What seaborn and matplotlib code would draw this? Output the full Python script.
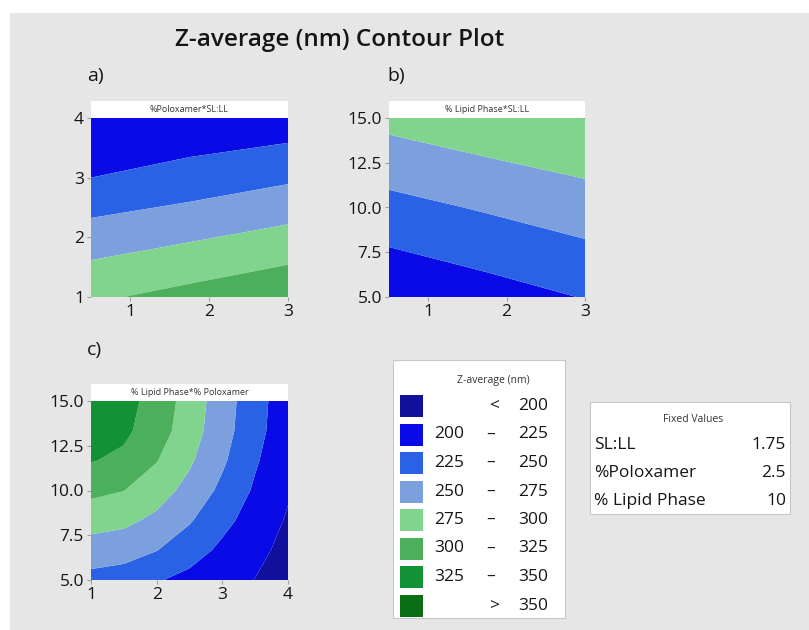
import numpy as np
import matplotlib
matplotlib.use("Agg")
import matplotlib.pyplot as plt
from matplotlib.patches import Rectangle
import seaborn as sns

sns.set_theme(style="white")
plt.rcParams['font.family'] = ['Open Sans', 'DejaVu Sans']

# ---------------- data ----------------
levels = [0, 200, 225, 250, 275, 300, 325, 350, 1000]
band_labels = ["< 200", "200 – 225", "225 – 250", "250 – 275",
               "275 – 300", "300 – 325", "325 – 350", "> 350"]
band_colors = ["#10109c", "#0a0ae6", "#2a62e6", "#7ca0de",
               "#80d48e", "#4caf5c", "#129234", "#0a6e14"]

# a) %Poloxamer (y) vs SL:LL (x)
a_x = [0.5, 1.75, 3.0]
a_y = [1, 2, 3, 4]
a_z = [[296, 308, 320],
       [262, 272, 283],
       [225, 235, 246],
       [203, 206, 210]]

# b) % Lipid Phase (y) vs SL:LL (x)
b_x = [0.5, 1.75, 3.0]
b_y = [5, 10, 15]
b_z = [[203.5, 214.5, 226.0],
       [242.0, 252.5, 263.0],
       [282.5, 292.5, 300.5]]

# c) % Lipid Phase (y) vs % Poloxamer (x)
c_x = [1.0, 1.5, 2.0, 2.5, 3.0, 3.5, 4.0]
c_y = [5.0, 6.67, 8.33, 10.0, 11.67, 13.33, 15.0]
c_z = [[242.1, 238.0, 227.0, 218.0, 209.6, 199.5, 188.0],
       [263.7, 260.3, 250.7, 235.8, 220.0, 206.4, 193.0],
       [284.9, 280.8, 269.3, 252.3, 231.9, 214.6, 197.5],
       [306.1, 300.4, 286.3, 266.9, 244.3, 221.6, 202.5],
       [326.3, 319.8, 301.0, 278.6, 253.8, 227.7, 207.0],
       [335.6, 329.9, 312.0, 286.2, 259.9, 232.7, 210.0],
       [345.0, 333.1, 316.1, 288.9, 262.0, 234.4, 211.0]]

fixed_names = ["SL:LL", "%Poloxamer", "% Lipid Phase"]
fixed_values = ["1.75", "2.5", "10"]

# ---------------- figure ----------------
W, H = 809, 630
fig = plt.figure(figsize=(W / 100, H / 100), dpi=100, facecolor="white")
fig.patches.append(Rectangle((10 / W, 0), 1 - 10 / W, 1 - 13 / H,
                             transform=fig.transFigure, facecolor="#e6e6e6",
                             edgecolor="none", zorder=-10))

def px_axes(x0, y0, x1, y1):
    return fig.add_axes([x0 / W, 1 - y1 / H, (x1 - x0) / W, (y1 - y0) / H])

TXT = "#151515"

def panel(ax, xs, ys, zs, header, xlim, ylim, xticks, yticks, yfmt):
    X, Y = np.meshgrid(xs, ys)
    ax.contourf(X, Y, np.array(zs), levels=levels, colors=band_colors,
                antialiased=True)
    ax.set_xlim(*xlim)
    ax.set_ylim(*ylim)
    ax.set_xticks(xticks)
    ax.set_xticklabels([str(t) for t in xticks])
    ax.set_yticks(yticks)
    ax.set_yticklabels([yfmt.format(t) for t in yticks])
    for s in ax.spines.values():
        s.set_visible(False)
    ax.tick_params(axis="both", length=3, width=0.8, color="#a0a0a0",
                   labelsize=12.5, labelcolor=TXT, pad=2, direction="out",
                   left=True, bottom=True)
    hh = 17 / (ax.get_position().height * H)
    ax.add_patch(Rectangle((0, 1), 1, hh, transform=ax.transAxes,
                           facecolor="white", edgecolor="none", clip_on=False))
    ax.text(0.5, 1 + hh / 2, header, transform=ax.transAxes, ha="center",
            va="center", fontsize=6.5, color="#333333")

ax_a = px_axes(91, 118, 288, 297)
panel(ax_a, a_x, a_y, a_z, "%Poloxamer*SL:LL", (0.5, 3.0), (1, 4),
      [1, 2, 3], [1, 2, 3, 4], "{:d}")

ax_b = px_axes(389, 118, 585, 297)
panel(ax_b, b_x, b_y, b_z, "% Lipid Phase*SL:LL", (0.5, 3.0), (5, 15),
      [1, 2, 3], [5.0, 7.5, 10.0, 12.5, 15.0], "{:.1f}")

ax_c = px_axes(91, 401, 288, 580)
panel(ax_c, c_x, c_y, c_z, "% Lipid Phase*% Poloxamer", (1, 4), (5, 15),
      [1, 2, 3, 4], [5.0, 7.5, 10.0, 12.5, 15.0], "{:.1f}")

def ftext(x, y, s, **kw):
    fig.text(x / W, 1 - y / H, s, **kw)

ftext(340, 40, "Z-average (nm) Contour Plot", ha="center", va="center",
      fontsize=17.5, color=TXT, fontweight="semibold")
ftext(87, 76, "a)", ha="left", va="center", fontsize=14, color=TXT)
ftext(387, 76, "b)", ha="left", va="center", fontsize=14, color=TXT)
ftext(87, 350, "c)", ha="left", va="center", fontsize=14, color=TXT)

# ---------------- legend box ----------------
fig.patches.append(Rectangle((393 / W, 1 - 618 / H), 172 / W, 258 / H,
                             transform=fig.transFigure, facecolor="white",
                             edgecolor="#c8c8c8", linewidth=0.8))
ftext(493, 380, "Z-average (nm)", ha="center", va="center", fontsize=7.5,
      color="#333333")
for i, (lab, col) in enumerate(zip(band_labels, band_colors)):
    yc = 406 + i * 28.5
    fig.patches.append(Rectangle((400 / W, 1 - (yc + 11) / H), 23 / W, 22 / H,
                                 transform=fig.transFigure, facecolor=col,
                                 edgecolor="none"))
    if " – " in lab:
        lo, hi = lab.split(" – ")
        ftext(434, yc, lo, ha="left", va="center", fontsize=12.5, color=TXT)
        ftext(491, yc, "–", ha="center", va="center", fontsize=12.5, color=TXT)
        ftext(548, yc, hi, ha="right", va="center", fontsize=12.5, color=TXT)
    else:
        sym, val = lab.split(" ")
        ftext(494, yc, sym, ha="center", va="center", fontsize=12.5, color=TXT)
        ftext(548, yc, val, ha="right", va="center", fontsize=12.5, color=TXT)

# ---------------- fixed values box ----------------
fig.patches.append(Rectangle((590 / W, 1 - 514 / H), 200 / W, 112 / H,
                             transform=fig.transFigure, facecolor="white",
                             edgecolor="#c8c8c8", linewidth=0.8))
ftext(693, 419, "Fixed Values", ha="center", va="center", fontsize=7.5,
      color="#333333")
for i, (n, v) in enumerate(zip(fixed_names, fixed_values)):
    yc = 445 + i * 28
    ftext(594, yc, n, ha="left", va="center", fontsize=12.5, color=TXT)
    ftext(786, yc, v, ha="right", va="center", fontsize=12.5, color=TXT)

fig.savefig("out.png", dpi=100, facecolor=fig.get_facecolor())
